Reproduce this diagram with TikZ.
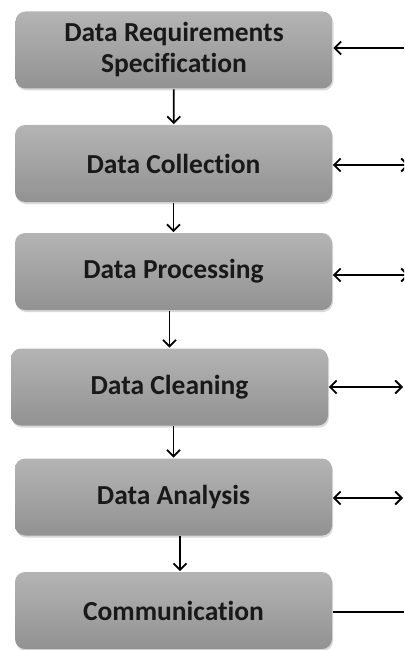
\documentclass[tikz,border=0pt]{standalone}
\usepackage{fontspec}
\setmainfont{Carlito}[Ligatures=NoCommon]
\usepackage{tikz}
\usetikzlibrary{arrows.meta, positioning, shadows}
\definecolor{boxtop}{RGB}{180,180,180}
\definecolor{boxmid}{RGB}{154,154,154}
\definecolor{boxbot}{RGB}{146,146,146}

\begin{document}
\begin{tikzpicture}[
                x=1pt, y=-1pt,
                >={Straight Barb[length=6.5pt, width=13pt]},
                line width=1.8pt,
                stage/.style={rounded corners=10pt, minimum width=317pt,
                    minimum height=77pt, align=center, top color=boxtop,
                    middle color=boxmid, bottom color=boxbot,
                    drop shadow={shadow xshift=1pt, shadow yshift=-2pt, opacity=0.3},
                    text=black!90, font=\fontsize{27.5}{31}\selectfont\bfseries}
            ]
                \useasboundingbox (0, 0) rectangle (404, 650);
                \clip (0, 0) rectangle (404, 650);
                \node[stage] (0) at (174, 50) {Data Requirements\\Specification};
                \node[stage] (1) at (173.5, 163.5) {Data Collection};
                \node[stage] (2) at (173.5, 271.5) {Data Processing};
                \node[stage] (3) at (169.5, 387) {Data Cleaning};
                \node[stage] (4) at (173.5, 497) {Data Analysis};
                \node[stage] (5) at (173.5, 610.5) {Communication};
                \coordinate (e0) at (404, 48);
                \coordinate (e1) at (409, 165);
                \coordinate (e2) at (409, 275);
                \coordinate (e3) at (403, 387);
                \coordinate (e4) at (403, 498);
                \coordinate (e5) at (404, 612);
                \path[->] (0) edge (1)
                (1) edge (2)
                (2.south -| 3) edge (3)
                (3.south -| 4) edge (4)
                ([xshift=6.5pt]4.south) edge ([xshift=6.5pt]5.north);
                \draw[->] (e0) -- (e0 -| 0.east);
                \draw[<->] (e1 -| 1.east) -- (e1);
                \draw[<->] (e2 -| 2.east) -- (e2);
                \draw[<->] (e3 -| 3.east) -- (e3);
                \draw[<->] (e4 -| 4.east) -- (e4);
                \draw (e5 -| 5.east) -- (e5);
            \end{tikzpicture}
\end{document}
